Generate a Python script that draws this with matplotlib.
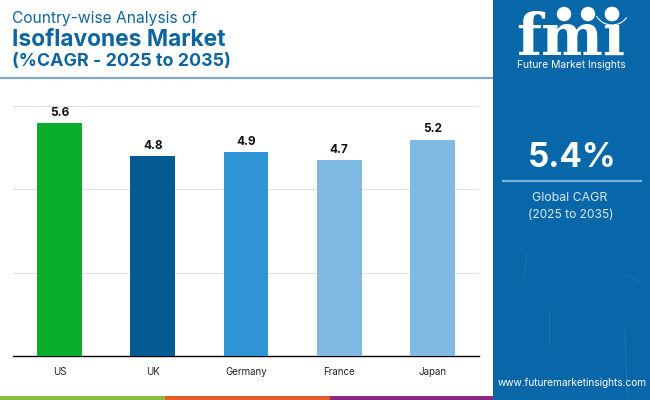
import matplotlib
matplotlib.use("Agg")
import matplotlib.pyplot as plt
from matplotlib.patches import Rectangle, Circle, Arc

countries = ["US", "UK", "Germany", "France", "Japan"]
cagr = [5.6, 4.8, 4.9, 4.7, 5.2]
bar_colors = ["#0AAE2D", "#055A94", "#2E94D6", "#7FBAE3", "#7FBAE3"]
yticks = [0, 2, 4, 6]
title_lines = ["Country-wise Analysis of", "Isoflavones Market", "(%CAGR - 2025 to 2035)"]
PANEL = "#0867A8"
TITLE = "#0E659F"

plt.rcParams["font.family"] = ["Inter", "DejaVu Sans"]
W, H = 650, 400
fig = plt.figure(figsize=(6.5, 4), dpi=100, facecolor="white")

def box(l, t, r, b):
    return [l / W, 1 - b / H, (r - l) / W, (b - t) / H]

ax = fig.add_axes(box(13, 105, 479, 356))
ax.bar(countries, cagr, width=0.48, color=bar_colors, zorder=3)
ax.set_xlim(-0.5, 4.5)
ax.set_ylim(0, 6.03)
ax.set_yticks(yticks)
ax.tick_params(axis="y", length=0, labelleft=False)
ax.tick_params(axis="x", length=0, labelsize=7.0, pad=8, labelcolor="#222222")
ax.grid(axis="y", color="#E2E2E2", lw=0.8, zorder=0)
for s in ["top", "left", "right"]:
    ax.spines[s].set_visible(False)
ax.spines["bottom"].set_linewidth(1.0)
ax.spines["bottom"].set_color("black")
for i, v in enumerate(cagr):
    ax.annotate(f"{v}", (i, v), xytext=(0, 3), textcoords="offset points",
                ha="center", va="bottom", fontsize=8.5, fontweight="bold", color="#111111")

bg = fig.add_axes([0, 0, 1, 1], zorder=5)
bg.set_xlim(0, W)
bg.set_ylim(H, 0)
bg.axis("off")
bg.patch.set_alpha(0)

bg.add_patch(Rectangle((493, 0), 157, 400, color=PANEL, lw=0))
bg.add_patch(Rectangle((0, 396), 165, 4, color="#8BBD45", lw=0))
bg.add_patch(Rectangle((165, 396), 165, 4, color="#E35B2A", lw=0))
bg.add_patch(Rectangle((330, 396), 163, 4, color="#8B2A84", lw=0))
bg.plot([0, 493], [77.5, 77.5], color="#7FA9C8", lw=1.6, solid_capstyle="butt")

bg.text(12, 19, title_lines[0], fontsize=11.2, color=TITLE, va="center", ha="left")
bg.text(12, 40, title_lines[1], fontsize=16.4, color=TITLE, va="center", ha="left", fontweight="bold")
bg.text(12, 61, title_lines[2], fontsize=12.85, color=TITLE, va="center", ha="left", fontweight="bold")

# logo
bg.text(571, 55, "fmi", fontsize=42, family="DejaVu Serif", fontweight="bold",
        color="white", ha="center", va="baseline")
for y in [31, 36, 41, 46, 51]:
    bg.plot([515, 628], [y, y], color=PANEL, lw=0.9)
for x, y in [(564, 14), (588, 14), (612, 14)]:
    bg.add_patch(Circle((x, y), 7.2, color="white", lw=0, zorder=4))
bg.add_patch(Circle((612, 10), 13, color=PANEL, lw=0, zorder=3))
bg.add_patch(Circle((612, 14), 7.2, color="white", lw=0, zorder=4))
bg.add_patch(Arc((612, 7), 36, 36, theta1=35, theta2=150, color="white", lw=0.8, zorder=4))
bg.text(571, 65, "Future Market Insights", fontsize=7.4, color="white", ha="center", va="center")

# panel texture
for xs, ys in [([527, 524], [253, 278]), ([625, 627], [330, 395]), ([549, 549], [310, 345]),
               ([628, 640], [275, 282])]:
    bg.plot(xs, ys, color="#3A86BC", lw=0.6, alpha=0.6)

# KPI
bg.text(572, 158, "5.4%", fontsize=24, fontweight="bold", color="white", ha="center", va="center")
bg.plot([502, 642], [181, 181], color="#7FB2DA", lw=1.6, solid_capstyle="butt")
bg.text(570, 198, "Global CAGR", fontsize=8.9, color="#DCEAF5", ha="center", va="center")
bg.text(571, 215, "(2025 to 2035)", fontsize=8.6, color="#DCEAF5", ha="center", va="center")
bg.text(572, 383, "www.futuremarketinsights.com", fontsize=7.3, color="white", ha="center", va="center")

fig.savefig("out.png", dpi=100)
